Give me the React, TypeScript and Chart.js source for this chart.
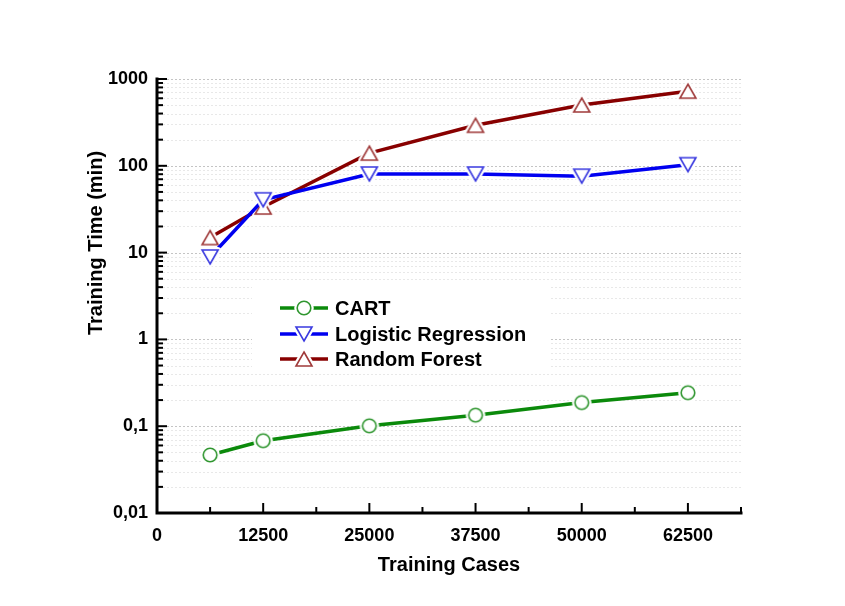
import React, { useEffect, useRef } from 'react';
import { Chart, registerables } from 'chart.js';

Chart.register(...registerables);

// Training set sizes (x) and training times in minutes (y, log scale)
const trainingCases = [6250, 12500, 25000, 37500, 50000, 62500];
const cartTimes = [0.0466, 0.068, 0.101, 0.134, 0.187, 0.243];
const logisticTimes = [8.9, 40.6, 80.5, 80.5, 76, 103];
const forestTimes = [14.9, 33.5, 140, 293, 502, 724];

const seriesNames = ['CART', 'Logistic Regression', 'Random Forest'];

// Axis ticks
const xTickValues = [0, 6250, 12500, 18750, 25000, 31250, 37500, 43750, 50000, 56250, 62500, 68750];
const xLabelValues = [0, 12500, 25000, 37500, 50000, 62500];
const yDecades = [0.01, 0.1, 1, 10, 100, 1000];
const yDecadeLabels = ['0,01', '0,1', '1', '10', '100', '1000'];
const yMinorSteps = [2, 3, 4, 5, 6, 7, 8, 9];

const FONT = '"Liberation Sans", Arial, Helvetica, sans-serif';

const LINE_COLORS = ['#0b8a0b', '#0000f0', '#880000'];
const MARKER_COLORS = ['#2f962f', '#3a3ae0', '#a03a3a'];

type Shape = 'circle' | 'down' | 'up';

function makeMarker(shape: Shape, color: string): HTMLCanvasElement {
  const size = 30;
  const c = document.createElement('canvas');
  c.width = size;
  c.height = size;
  const ctx = c.getContext('2d')!;
  const m = size / 2;
  const path = () => {
    ctx.beginPath();
    if (shape === 'circle') {
      ctx.arc(m, m, 6.8, 0, Math.PI * 2);
    } else if (shape === 'up') {
      ctx.moveTo(m, m - 7);
      ctx.lineTo(m + 8, m + 7);
      ctx.lineTo(m - 8, m + 7);
      ctx.closePath();
    } else {
      ctx.moveTo(m, m + 7);
      ctx.lineTo(m + 8, m - 7);
      ctx.lineTo(m - 8, m - 7);
      ctx.closePath();
    }
  };
  // white halo leaves a small gap between the line and the symbol
  path();
  ctx.lineJoin = 'round';
  ctx.strokeStyle = '#ffffff';
  ctx.lineWidth = 6;
  ctx.stroke();
  ctx.fillStyle = '#ffffff';
  ctx.fill();
  path();
  ctx.lineJoin = 'miter';
  ctx.strokeStyle = color;
  ctx.lineWidth = 1.6;
  ctx.stroke();
  return c;
}

function isDecade(v: number): number {
  for (let i = 0; i < yDecades.length; i++) {
    if (Math.abs(Math.log10(v) - Math.log10(yDecades[i])) < 1e-6) return i;
  }
  return -1;
}

function yGridValues(): number[] {
  const vals: number[] = [];
  yDecades.forEach((d, i) => {
    vals.push(d);
    if (i < yDecades.length - 1) yMinorSteps.forEach((k) => vals.push(d * k));
  });
  return vals;
}

export default function App() {
  const ref = useRef<HTMLCanvasElement | null>(null);

  useEffect(() => {
    if (!ref.current) return;
    const markers = [
      makeMarker('circle', MARKER_COLORS[0]),
      makeMarker('down', MARKER_COLORS[1]),
      makeMarker('up', MARKER_COLORS[2]),
    ];

    const frame = {
      id: 'frame',
      beforeDatasetsDraw(chart: any) {
        const { ctx, chartArea, scales } = chart;
        const y = scales.y;
        ctx.save();
        ctx.lineWidth = 1;
        ctx.setLineDash([2, 2]);
        yGridValues().forEach((v) => {
          const py = Math.round(y.getPixelForValue(v)) + 0.5;
          ctx.strokeStyle = isDecade(v) >= 0 ? '#c4c4c4' : '#e8e8e8';
          ctx.beginPath();
          ctx.moveTo(chartArea.left + 2, py);
          ctx.lineTo(chartArea.right, py);
          ctx.stroke();
        });
        ctx.restore();
      },
      afterDatasetsDraw(chart: any) {
        const { ctx, chartArea, scales } = chart;
        const x = scales.x;
        const y = scales.y;
        ctx.save();

        // legend box
        const lx = 252;
        const ly = 284;
        ctx.fillStyle = '#ffffff';
        ctx.fillRect(lx, ly, 298, 88);
        const rows = [308, 334, 359];
        seriesNames.forEach((name, i) => {
          const ry = rows[i];
          ctx.strokeStyle = LINE_COLORS[i];
          ctx.lineWidth = 3.4;
          ctx.setLineDash([]);
          ctx.beginPath();
          ctx.moveTo(280, ry);
          ctx.lineTo(328, ry);
          ctx.stroke();
          const mk = markers[i];
          ctx.drawImage(mk, 304 - mk.width / 2, ry - mk.height / 2);
          ctx.fillStyle = '#000000';
          ctx.font = `bold 20px ${FONT}`;
          ctx.textAlign = 'left';
          ctx.textBaseline = 'middle';
          ctx.fillText(name, 335, ry + 1);
        });

        // axis lines
        ctx.strokeStyle = '#000000';
        ctx.setLineDash([]);
        ctx.lineWidth = 3;
        ctx.lineCap = 'square';
        ctx.beginPath();
        ctx.moveTo(chartArea.left, chartArea.top);
        ctx.lineTo(chartArea.left, chartArea.bottom);
        ctx.lineTo(chartArea.right, chartArea.bottom);
        ctx.stroke();

        // inward tick marks
        ctx.lineWidth = 2;
        ctx.lineCap = 'butt';
        yGridValues().forEach((v) => {
          const py = y.getPixelForValue(v);
          const len = isDecade(v) >= 0 ? 10 : 6;
          ctx.beginPath();
          ctx.moveTo(chartArea.left, py);
          ctx.lineTo(chartArea.left + len, py);
          ctx.stroke();
        });
        xTickValues.forEach((v) => {
          if (v === 0) return;
          const px = x.getPixelForValue(v);
          const len = xLabelValues.includes(v) ? 10 : 6;
          ctx.beginPath();
          ctx.moveTo(px, chartArea.bottom);
          ctx.lineTo(px, chartArea.bottom - len);
          ctx.stroke();
        });

        // axis titles
        ctx.fillStyle = '#000000';
        ctx.font = `bold 20px ${FONT}`;
        ctx.textAlign = 'center';
        ctx.textBaseline = 'middle';
        ctx.fillText('Training Cases', (chartArea.left + chartArea.right) / 2, 565);
        ctx.translate(96, 243);
        ctx.rotate(-Math.PI / 2);
        ctx.fillText('Training Time (min)', 0, 0);
        ctx.restore();
      },
    };

    const chart = new Chart(ref.current, {
      type: 'line',
      data: {
        datasets: [cartTimes, logisticTimes, forestTimes].map((vals, i) => ({
          label: seriesNames[i],
          data: trainingCases.map((c, j) => ({ x: c, y: vals[j] })),
          borderColor: LINE_COLORS[i],
          backgroundColor: LINE_COLORS[i],
          borderWidth: 3.5,
          pointStyle: markers[i] as any,
          pointRadius: 8,
          tension: 0,
        })),
      },
      options: {
        animation: false,
        responsive: false,
        events: [],
        layout: { padding: { top: 79, right: 104, left: 0, bottom: 0 } },
        plugins: {
          legend: { display: false },
          tooltip: { enabled: false },
        },
        scales: {
          x: {
            type: 'linear',
            min: 0,
            max: 68750,
            grid: { display: false, drawTicks: false },
            border: { display: false },
            afterBuildTicks: (s: any) => {
              s.ticks = xTickValues.map((v) => ({ value: v }));
            },
            afterFit: (s: any) => {
              s.height = 93;
            },
            ticks: {
              autoSkip: false,
              maxRotation: 0,
              padding: 12,
              color: '#000000',
              font: { family: FONT, size: 18, weight: 'bold' },
              callback: (v: any) => (xLabelValues.includes(Number(v)) ? String(v) : ''),
            },
          },
          y: {
            type: 'logarithmic',
            min: 0.01,
            max: 1000,
            grid: { display: false, drawTicks: false },
            border: { display: false },
            afterBuildTicks: (s: any) => {
              s.ticks = yGridValues().map((v) => ({ value: v }));
            },
            afterFit: (s: any) => {
              s.width = 157;
            },
            ticks: {
              autoSkip: false,
              padding: 9,
              color: '#000000',
              font: { family: FONT, size: 18, weight: 'bold' },
              callback: (v: any) => {
                const i = isDecade(Number(v));
                return i >= 0 ? yDecadeLabels[i] : '';
              },
            },
          },
        },
      },
      plugins: [frame],
    });

    return () => chart.destroy();
  }, []);

  return (
    <div style={{ position: 'fixed', left: 0, top: 0, width: 845, height: 606, background: '#ffffff' }}>
      <canvas ref={ref} width={845} height={606} />
    </div>
  );
}
